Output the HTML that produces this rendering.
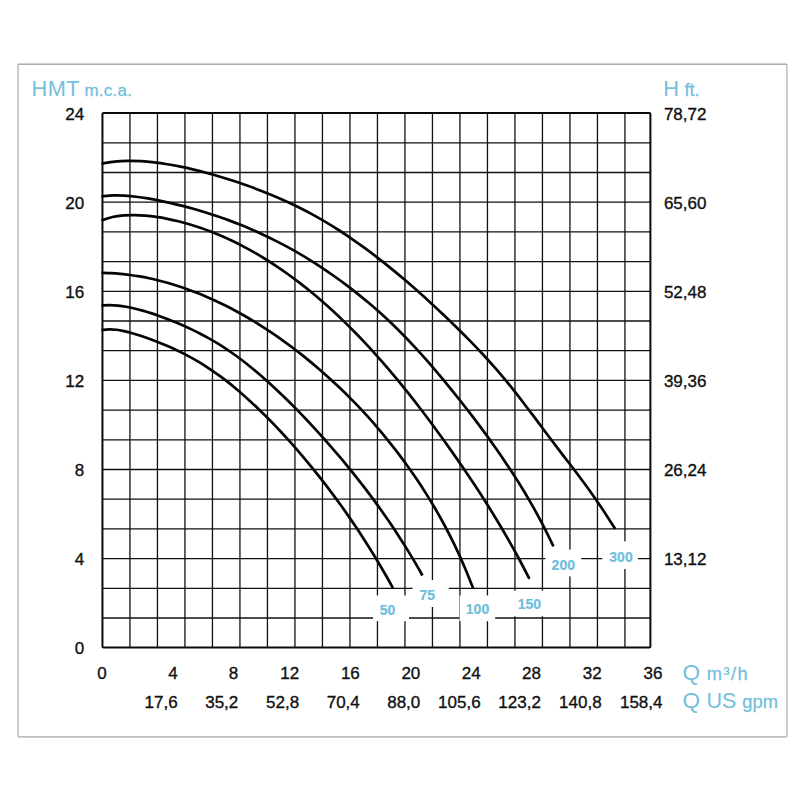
<!DOCTYPE html>
<html lang="fr">
<head>
<meta charset="utf-8">
<title>Courbes de performance</title>
<style>
html,body{margin:0;padding:0;background:#fff;}
body{width:800px;height:800px;overflow:hidden;}
svg{display:block;}
text{font-family:"Liberation Sans",sans-serif;}
.ax{font-size:17px;fill:#111;stroke:#111;stroke-width:0.35px;}
.lb{font-size:14px;font-weight:bold;fill:#6fbddb;stroke:#6fbddb;stroke-width:0.2px;}
.bl{fill:#74bfdc;}
.sm{stroke:#74bfdc;stroke-width:0.3px;}
</style>
</head>
<body>
<svg width="800" height="800" viewBox="0 0 800 800">
<rect x="0" y="0" width="800" height="800" fill="#ffffff"/>
<rect x="18" y="64.3" width="768.9" height="672.6" rx="0.8" fill="#ffffff" stroke="#c0c0c0" stroke-width="1.6"/>
<line x1="18" y1="64.3" x2="786.9" y2="64.3" stroke="#a6a6a6" stroke-width="1.1"/>

<g stroke="#111" stroke-width="1.3" fill="none">
<line x1="129.95" y1="113.10" x2="129.95" y2="647.45"/>
<line x1="157.45" y1="113.10" x2="157.45" y2="647.45"/>
<line x1="184.95" y1="113.10" x2="184.95" y2="647.45"/>
<line x1="212.45" y1="113.10" x2="212.45" y2="647.45"/>
<line x1="239.95" y1="113.10" x2="239.95" y2="647.45"/>
<line x1="267.45" y1="113.10" x2="267.45" y2="647.45"/>
<line x1="294.95" y1="113.10" x2="294.95" y2="647.45"/>
<line x1="322.45" y1="113.10" x2="322.45" y2="647.45"/>
<line x1="349.95" y1="113.10" x2="349.95" y2="647.45"/>
<line x1="377.45" y1="113.10" x2="377.45" y2="647.45"/>
<line x1="404.95" y1="113.10" x2="404.95" y2="647.45"/>
<line x1="432.45" y1="113.10" x2="432.45" y2="647.45"/>
<line x1="459.95" y1="113.10" x2="459.95" y2="647.45"/>
<line x1="487.45" y1="113.10" x2="487.45" y2="647.45"/>
<line x1="514.95" y1="113.10" x2="514.95" y2="647.45"/>
<line x1="542.45" y1="113.10" x2="542.45" y2="647.45"/>
<line x1="569.95" y1="113.10" x2="569.95" y2="647.45"/>
<line x1="597.45" y1="113.10" x2="597.45" y2="647.45"/>
<line x1="624.95" y1="113.10" x2="624.95" y2="647.45"/>
<line x1="102.45" y1="142.80" x2="650.40" y2="142.80"/>
<line x1="102.45" y1="172.50" x2="650.40" y2="172.50"/>
<line x1="102.45" y1="202.20" x2="650.40" y2="202.20"/>
<line x1="102.45" y1="231.90" x2="650.40" y2="231.90"/>
<line x1="102.45" y1="261.60" x2="650.40" y2="261.60"/>
<line x1="102.45" y1="291.30" x2="650.40" y2="291.30"/>
<line x1="102.45" y1="321.00" x2="650.40" y2="321.00"/>
<line x1="102.45" y1="350.70" x2="650.40" y2="350.70"/>
<line x1="102.45" y1="380.40" x2="650.40" y2="380.40"/>
<line x1="102.45" y1="410.10" x2="650.40" y2="410.10"/>
<line x1="102.45" y1="439.80" x2="650.40" y2="439.80"/>
<line x1="102.45" y1="469.50" x2="650.40" y2="469.50"/>
<line x1="102.45" y1="499.20" x2="650.40" y2="499.20"/>
<line x1="102.45" y1="528.90" x2="650.40" y2="528.90"/>
<line x1="102.45" y1="558.60" x2="650.40" y2="558.60"/>
<line x1="102.45" y1="588.30" x2="650.40" y2="588.30"/>
<line x1="102.45" y1="618.00" x2="650.40" y2="618.00"/>
</g>
<rect x="102.45" y="113.10" width="547.95" height="534.35" rx="1.2" fill="none" stroke="#0a0a0a" stroke-width="2"/>
<g stroke="#050505" stroke-width="2.7" fill="none" stroke-linecap="butt" stroke-linejoin="round">
<path d="M101.50 163.51 C103.70 163.19 110.28 162.02 114.67 161.58 C119.06 161.14 123.45 160.94 127.84 160.87 C132.23 160.81 136.62 160.94 141.02 161.19 C145.41 161.44 149.80 161.85 154.19 162.35 C158.58 162.86 162.97 163.50 167.36 164.22 C171.75 164.94 176.14 165.77 180.53 166.66 C184.92 167.56 189.31 168.55 193.70 169.60 C198.09 170.64 202.48 171.77 206.87 172.95 C211.26 174.13 215.66 175.38 220.05 176.69 C224.44 178.00 228.83 179.37 233.22 180.80 C237.61 182.24 242.00 183.73 246.39 185.29 C250.78 186.86 255.17 188.48 259.56 190.17 C263.95 191.87 268.34 193.63 272.73 195.47 C277.12 197.32 281.51 199.23 285.91 201.24 C290.30 203.24 294.69 205.33 299.08 207.52 C303.47 209.71 307.86 211.98 312.25 214.37 C316.64 216.77 321.03 219.26 325.42 221.86 C329.81 224.47 334.20 227.18 338.59 230.00 C342.98 232.82 347.37 235.75 351.76 238.78 C356.15 241.81 360.55 244.95 364.94 248.17 C369.33 251.39 373.72 254.72 378.11 258.13 C382.50 261.53 386.89 265.03 391.28 268.61 C395.67 272.19 400.06 275.85 404.45 279.59 C408.84 283.33 413.23 287.15 417.62 291.04 C422.01 294.92 426.40 298.89 430.79 302.92 C435.19 306.94 439.58 311.04 443.97 315.21 C448.36 319.38 452.75 323.61 457.14 327.93 C461.53 332.26 465.92 336.64 470.31 341.15 C474.70 345.67 479.09 350.26 483.48 355.02 C487.87 359.78 492.26 364.66 496.65 369.73 C501.04 374.81 505.44 380.06 509.83 385.47 C514.22 390.88 518.61 396.51 523.00 402.21 C527.39 407.90 531.78 413.81 536.17 419.65 C540.56 425.50 544.95 431.47 549.34 437.30 C553.73 443.12 558.12 448.87 562.51 454.61 C566.90 460.35 571.29 465.93 575.68 471.76 C580.08 477.58 584.47 483.40 588.86 489.54 C593.25 495.68 597.64 502.00 602.03 508.58 C606.42 515.16 613.00 525.60 615.20 529.00"/>
<path d="M101.50 196.38 C103.43 196.21 109.22 195.49 113.09 195.36 C116.95 195.22 120.81 195.37 124.67 195.60 C128.54 195.82 132.40 196.24 136.26 196.72 C140.12 197.19 143.99 197.79 147.85 198.44 C151.71 199.09 155.57 199.82 159.44 200.59 C163.30 201.37 167.16 202.21 171.02 203.10 C174.89 203.99 178.75 204.93 182.61 205.93 C186.47 206.92 190.34 207.97 194.20 209.06 C198.06 210.16 201.92 211.31 205.78 212.51 C209.65 213.72 213.51 214.97 217.37 216.28 C221.23 217.59 225.10 218.96 228.96 220.39 C232.82 221.81 236.68 223.30 240.55 224.85 C244.41 226.40 248.27 228.01 252.13 229.69 C256.00 231.37 259.86 233.12 263.72 234.93 C267.58 236.75 271.45 238.63 275.31 240.59 C279.17 242.54 283.03 244.57 286.89 246.67 C290.76 248.77 294.62 250.94 298.48 253.19 C302.34 255.44 306.21 257.77 310.07 260.17 C313.93 262.57 317.79 265.05 321.66 267.60 C325.52 270.16 329.38 272.80 333.24 275.51 C337.11 278.23 340.97 281.02 344.83 283.91 C348.69 286.79 352.56 289.75 356.42 292.82 C360.28 295.88 364.14 299.02 368.01 302.28 C371.87 305.53 375.73 308.88 379.59 312.35 C383.45 315.82 387.32 319.39 391.18 323.09 C395.04 326.79 398.90 330.61 402.77 334.54 C406.63 338.47 410.49 342.53 414.35 346.69 C418.22 350.84 422.08 355.11 425.94 359.47 C429.80 363.83 433.67 368.30 437.53 372.85 C441.39 377.40 445.25 382.05 449.12 386.78 C452.98 391.52 456.84 396.34 460.70 401.24 C464.56 406.14 468.43 411.12 472.29 416.19 C476.15 421.26 480.01 426.40 483.88 431.67 C487.74 436.93 491.60 442.26 495.46 447.76 C499.33 453.25 503.19 458.84 507.05 464.64 C510.91 470.44 514.78 476.37 518.64 482.57 C522.50 488.78 526.36 495.14 530.23 501.87 C534.09 508.60 537.95 515.55 541.81 522.95 C545.68 530.35 551.47 542.39 553.40 546.28"/>
<path d="M101.50 220.44 C103.33 219.87 108.81 217.85 112.47 217.01 C116.13 216.18 119.79 215.76 123.44 215.45 C127.10 215.13 130.76 215.09 134.42 215.13 C138.07 215.17 141.73 215.38 145.39 215.69 C149.04 215.99 152.70 216.43 156.36 216.96 C160.02 217.48 163.67 218.12 167.33 218.84 C170.99 219.57 174.65 220.38 178.30 221.29 C181.96 222.19 185.62 223.17 189.27 224.25 C192.93 225.32 196.59 226.48 200.25 227.73 C203.90 228.97 207.56 230.31 211.22 231.72 C214.88 233.14 218.53 234.65 222.19 236.24 C225.85 237.83 229.50 239.51 233.16 241.28 C236.82 243.04 240.48 244.89 244.13 246.83 C247.79 248.77 251.45 250.79 255.11 252.90 C258.76 255.01 262.42 257.21 266.08 259.49 C269.73 261.77 273.39 264.14 277.05 266.60 C280.71 269.06 284.36 271.60 288.02 274.23 C291.68 276.86 295.34 279.58 298.99 282.39 C302.65 285.19 306.31 288.09 309.96 291.08 C313.62 294.06 317.28 297.14 320.94 300.31 C324.59 303.47 328.25 306.73 331.91 310.08 C335.56 313.43 339.22 316.87 342.88 320.40 C346.54 323.93 350.19 327.55 353.85 331.27 C357.51 334.98 361.17 338.78 364.82 342.68 C368.48 346.57 372.14 350.56 375.79 354.64 C379.45 358.71 383.11 362.88 386.77 367.13 C390.42 371.38 394.08 375.73 397.74 380.16 C401.40 384.59 405.05 389.11 408.71 393.71 C412.37 398.31 416.02 402.99 419.68 407.75 C423.34 412.52 427.00 417.36 430.65 422.28 C434.31 427.20 437.97 432.19 441.63 437.25 C445.28 442.31 448.94 447.45 452.60 452.65 C456.25 457.86 459.91 463.14 463.57 468.51 C467.23 473.87 470.88 479.31 474.54 484.86 C478.20 490.41 481.86 496.04 485.51 501.81 C489.17 507.58 492.83 513.44 496.48 519.49 C500.14 525.53 503.80 531.68 507.46 538.06 C511.11 544.43 514.77 550.95 518.43 557.74 C522.09 564.52 527.57 575.25 529.40 578.76"/>
<path d="M101.50 272.76 C103.09 272.82 107.85 272.93 111.03 273.12 C114.20 273.30 117.38 273.55 120.56 273.86 C123.73 274.17 126.91 274.54 130.08 274.97 C133.26 275.40 136.44 275.90 139.61 276.45 C142.79 277.00 145.96 277.62 149.14 278.29 C152.32 278.96 155.49 279.69 158.67 280.48 C161.85 281.27 165.02 282.12 168.20 283.03 C171.37 283.94 174.55 284.90 177.73 285.93 C180.90 286.95 184.08 288.03 187.25 289.17 C190.43 290.30 193.61 291.50 196.78 292.75 C199.96 294.00 203.13 295.31 206.31 296.67 C209.49 298.04 212.66 299.46 215.84 300.94 C219.01 302.41 222.19 303.95 225.37 305.54 C228.54 307.13 231.72 308.78 234.89 310.48 C238.07 312.18 241.25 313.94 244.42 315.76 C247.60 317.57 250.78 319.45 253.95 321.38 C257.13 323.31 260.30 325.29 263.48 327.34 C266.66 329.38 269.83 331.48 273.01 333.64 C276.18 335.80 279.36 338.02 282.54 340.29 C285.71 342.57 288.89 344.90 292.06 347.29 C295.24 349.69 298.42 352.14 301.59 354.65 C304.77 357.16 307.94 359.73 311.12 362.36 C314.30 365.00 317.47 367.69 320.65 370.45 C323.82 373.21 327.00 376.03 330.18 378.92 C333.35 381.82 336.53 384.77 339.71 387.81 C342.88 390.84 346.06 393.94 349.23 397.13 C352.41 400.31 355.59 403.57 358.76 406.92 C361.94 410.27 365.11 413.69 368.29 417.22 C371.47 420.74 374.64 424.35 377.82 428.07 C380.99 431.79 384.17 435.60 387.35 439.53 C390.52 443.46 393.70 447.49 396.87 451.64 C400.05 455.80 403.23 460.07 406.40 464.48 C409.58 468.89 412.75 473.41 415.93 478.10 C419.11 482.80 422.28 487.61 425.46 492.64 C428.64 497.66 431.81 502.83 434.99 508.27 C438.16 513.70 441.34 519.31 444.52 525.25 C447.69 531.19 450.87 537.35 454.04 543.92 C457.22 550.50 460.40 557.34 463.57 564.69 C466.75 572.04 471.51 584.13 473.10 588.02"/>
<path d="M101.50 305.55 C102.87 305.48 106.99 305.13 109.73 305.14 C112.47 305.15 115.22 305.33 117.96 305.60 C120.71 305.87 123.45 306.27 126.19 306.75 C128.94 307.23 131.68 307.82 134.42 308.47 C137.17 309.11 139.91 309.84 142.65 310.62 C145.40 311.40 148.14 312.25 150.88 313.13 C153.63 314.02 156.37 314.96 159.12 315.94 C161.86 316.91 164.60 317.93 167.35 318.99 C170.09 320.05 172.83 321.14 175.58 322.28 C178.32 323.41 181.06 324.58 183.81 325.80 C186.55 327.02 189.29 328.28 192.04 329.60 C194.78 330.91 197.53 332.27 200.27 333.70 C203.01 335.12 205.76 336.60 208.50 338.14 C211.24 339.68 213.99 341.29 216.73 342.96 C219.47 344.62 222.22 346.36 224.96 348.16 C227.71 349.96 230.45 351.83 233.19 353.76 C235.94 355.70 238.68 357.70 241.42 359.77 C244.17 361.84 246.91 363.98 249.65 366.18 C252.40 368.38 255.14 370.65 257.88 372.98 C260.63 375.30 263.37 377.69 266.12 380.14 C268.86 382.58 271.60 385.09 274.35 387.64 C277.09 390.19 279.83 392.80 282.58 395.45 C285.32 398.11 288.06 400.81 290.81 403.55 C293.55 406.30 296.29 409.09 299.04 411.91 C301.78 414.74 304.53 417.62 307.27 420.53 C310.01 423.44 312.76 426.40 315.50 429.39 C318.24 432.39 320.99 435.42 323.73 438.50 C326.47 441.58 329.22 444.70 331.96 447.86 C334.71 451.03 337.45 454.24 340.19 457.49 C342.94 460.75 345.68 464.05 348.42 467.40 C351.17 470.76 353.91 474.16 356.65 477.62 C359.40 481.09 362.14 484.60 364.88 488.18 C367.63 491.76 370.37 495.40 373.12 499.12 C375.86 502.83 378.60 506.61 381.35 510.47 C384.09 514.34 386.83 518.27 389.58 522.30 C392.32 526.33 395.06 530.44 397.81 534.65 C400.55 538.87 403.29 543.17 406.04 547.59 C408.78 552.01 411.53 556.53 414.27 561.19 C417.01 565.84 421.13 573.13 422.50 575.51"/>
<path d="M101.50 330.06 C102.75 329.94 106.48 329.38 108.97 329.34 C111.47 329.29 113.96 329.49 116.45 329.78 C118.94 330.07 121.43 330.55 123.92 331.07 C126.41 331.60 128.91 332.25 131.40 332.94 C133.89 333.63 136.38 334.41 138.87 335.21 C141.36 336.01 143.85 336.87 146.35 337.74 C148.84 338.62 151.33 339.54 153.82 340.48 C156.31 341.42 158.80 342.39 161.29 343.40 C163.79 344.41 166.28 345.45 168.77 346.53 C171.26 347.62 173.75 348.74 176.24 349.92 C178.74 351.09 181.23 352.31 183.72 353.59 C186.21 354.86 188.70 356.19 191.19 357.57 C193.68 358.95 196.18 360.39 198.67 361.88 C201.16 363.38 203.65 364.93 206.14 366.54 C208.63 368.15 211.12 369.82 213.62 371.56 C216.11 373.29 218.60 375.08 221.09 376.93 C223.58 378.78 226.07 380.69 228.56 382.66 C231.06 384.63 233.55 386.66 236.04 388.74 C238.53 390.82 241.02 392.97 243.51 395.16 C246.00 397.35 248.50 399.60 250.99 401.90 C253.48 404.19 255.97 406.54 258.46 408.94 C260.95 411.34 263.44 413.78 265.94 416.28 C268.43 418.77 270.92 421.31 273.41 423.89 C275.90 426.48 278.39 429.11 280.88 431.78 C283.38 434.46 285.87 437.18 288.36 439.95 C290.85 442.71 293.34 445.52 295.83 448.38 C298.32 451.24 300.82 454.14 303.31 457.09 C305.80 460.04 308.29 463.03 310.78 466.08 C313.27 469.12 315.76 472.21 318.26 475.35 C320.75 478.50 323.24 481.69 325.73 484.93 C328.22 488.18 330.71 491.47 333.21 494.82 C335.70 498.17 338.19 501.58 340.68 505.05 C343.17 508.51 345.66 512.03 348.15 515.62 C350.65 519.21 353.14 522.86 355.63 526.58 C358.12 530.30 360.61 534.08 363.10 537.94 C365.59 541.80 368.09 545.73 370.58 549.73 C373.07 553.74 375.56 557.83 378.05 562.00 C380.54 566.17 383.03 570.42 385.53 574.77 C388.02 579.11 391.75 585.86 393.00 588.08"/>
</g>
<rect x="373.00" y="595.50" width="36.00" height="25.70" fill="#fff"/>
<rect x="412.50" y="580.00" width="36.30" height="27.00" fill="#fff"/>
<rect x="459.60" y="595.50" width="35.60" height="25.70" fill="#fff"/>
<rect x="509.00" y="590.60" width="37.00" height="25.70" fill="#fff"/>
<rect x="545.40" y="549.60" width="35.80" height="26.80" fill="#fff"/>
<rect x="602.30" y="541.40" width="35.70" height="27.60" fill="#fff"/>
<text class="lb" x="387.50" y="615.00" text-anchor="middle">50</text>
<text class="lb" x="427.30" y="600.00" text-anchor="middle">75</text>
<text class="lb" x="477.50" y="614.20" text-anchor="middle">100</text>
<text class="lb" x="529.40" y="609.40" text-anchor="middle">150</text>
<text class="lb" x="563.30" y="569.80" text-anchor="middle">200</text>
<text class="lb" x="621.00" y="562.10" text-anchor="middle">300</text>
<text class="ax" x="84.1" y="119.80" text-anchor="end">24</text>
<text class="ax" x="84.1" y="208.90" text-anchor="end">20</text>
<text class="ax" x="84.1" y="298.00" text-anchor="end">16</text>
<text class="ax" x="84.1" y="387.10" text-anchor="end">12</text>
<text class="ax" x="84.1" y="476.20" text-anchor="end">8</text>
<text class="ax" x="84.1" y="565.30" text-anchor="end">4</text>
<text class="ax" x="84.1" y="654.40" text-anchor="end">0</text>
<text class="ax" x="663.9" y="119.80">78,72</text>
<text class="ax" x="663.9" y="208.90">65,60</text>
<text class="ax" x="663.9" y="298.00">52,48</text>
<text class="ax" x="663.9" y="387.10">39,36</text>
<text class="ax" x="663.9" y="476.20">26,24</text>
<text class="ax" x="663.9" y="565.30">13,12</text>
<text class="ax" x="106.60" y="678.8" text-anchor="end">0</text>
<text class="ax" x="177.60" y="678.8" text-anchor="end">4</text>
<text class="ax" x="238.30" y="678.8" text-anchor="end">8</text>
<text class="ax" x="299.10" y="678.8" text-anchor="end">12</text>
<text class="ax" x="359.80" y="678.8" text-anchor="end">16</text>
<text class="ax" x="420.30" y="678.8" text-anchor="end">20</text>
<text class="ax" x="480.60" y="678.8" text-anchor="end">24</text>
<text class="ax" x="540.90" y="678.8" text-anchor="end">28</text>
<text class="ax" x="601.60" y="678.8" text-anchor="end">32</text>
<text class="ax" x="662.50" y="678.8" text-anchor="end">36</text>
<text class="ax" x="177.60" y="707.5" text-anchor="end">17,6</text>
<text class="ax" x="238.30" y="707.5" text-anchor="end">35,2</text>
<text class="ax" x="299.10" y="707.5" text-anchor="end">52,8</text>
<text class="ax" x="359.80" y="707.5" text-anchor="end">70,4</text>
<text class="ax" x="420.30" y="707.5" text-anchor="end">88,0</text>
<text class="ax" x="480.60" y="707.5" text-anchor="end">105,6</text>
<text class="ax" x="540.90" y="707.5" text-anchor="end">123,2</text>
<text class="ax" x="601.60" y="707.5" text-anchor="end">140,8</text>
<text class="ax" x="662.50" y="707.5" text-anchor="end">158,4</text>
<text class="bl" x="31.6" y="95.6" font-size="21.8" letter-spacing="0.4">HMT</text>
<text class="bl sm" x="84.4" y="95.7" font-size="16.9" letter-spacing="0.3">m.c.a.</text>
<text class="bl" x="663.2" y="95.6" font-size="21.8">H</text>
<text class="bl sm" x="684.4" y="95.7" font-size="18.3">ft.</text>
<text class="bl" x="682.6" y="680" font-size="22.6">Q</text>
<text class="bl sm" x="706.8" y="680" font-size="18.3" letter-spacing="1.4">m³/h</text>
<text class="bl" x="682.6" y="707.7" font-size="22.6">Q</text>
<text class="bl" x="706.4" y="707.6" font-size="21.6">US</text>
<text class="bl sm" x="742.3" y="707.5" font-size="18.3">gpm</text>
</svg>
</body>
</html>
